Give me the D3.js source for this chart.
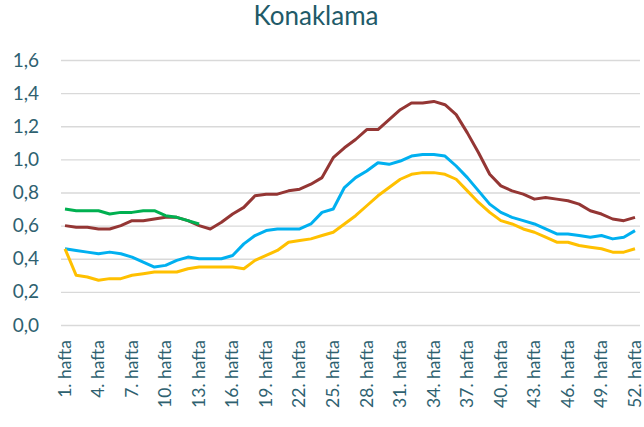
<!DOCTYPE html>
<html>
<head>
<meta charset="utf-8">
<script src="https://cdn.jsdelivr.net/npm/d3@7"></script>
<style>
  body { margin: 0; background: #fff; }
  text { font-family: Lato, "Open Sans", sans-serif; }
</style>
</head>
<body>
<div id="chart"></div>
<script>
const title = "Konaklama";
const weeks = d3.range(1, 53).map(function(w) { return w + ". hafta"; });
const yTicks = [0, 0.2, 0.4, 0.6, 0.8, 1.0, 1.2, 1.4, 1.6];

const seriesRed = [0.60, 0.59, 0.59, 0.58, 0.58, 0.60, 0.63, 0.63, 0.64, 0.65, 0.65, 0.63, 0.60, 0.58,
  0.62, 0.67, 0.71, 0.78, 0.79, 0.79, 0.81, 0.82, 0.85, 0.89, 1.01, 1.07, 1.12, 1.18, 1.18, 1.24,
  1.30, 1.34, 1.34, 1.35, 1.33, 1.27, 1.16, 1.04, 0.91, 0.84, 0.81, 0.79, 0.76, 0.77, 0.76, 0.75,
  0.73, 0.69, 0.67, 0.64, 0.63, 0.65];
const seriesBlue = [0.46, 0.45, 0.44, 0.43, 0.44, 0.43, 0.41, 0.38, 0.35, 0.36, 0.39, 0.41, 0.40, 0.40,
  0.40, 0.42, 0.49, 0.54, 0.57, 0.58, 0.58, 0.58, 0.61, 0.68, 0.70, 0.83, 0.89, 0.93, 0.98, 0.97,
  0.99, 1.02, 1.03, 1.03, 1.02, 0.96, 0.89, 0.81, 0.73, 0.68, 0.65, 0.63, 0.61, 0.58, 0.55, 0.55,
  0.54, 0.53, 0.54, 0.52, 0.53, 0.57];
const seriesYellow = [0.46, 0.30, 0.29, 0.27, 0.28, 0.28, 0.30, 0.31, 0.32, 0.32, 0.32, 0.34, 0.35, 0.35,
  0.35, 0.35, 0.34, 0.39, 0.42, 0.45, 0.50, 0.51, 0.52, 0.54, 0.56, 0.61, 0.66, 0.72, 0.78, 0.83,
  0.88, 0.91, 0.92, 0.92, 0.91, 0.88, 0.81, 0.74, 0.68, 0.63, 0.61, 0.58, 0.56, 0.53, 0.50, 0.50,
  0.48, 0.47, 0.46, 0.44, 0.44, 0.46];
const seriesGreen = [0.70, 0.69, 0.69, 0.69, 0.67, 0.68, 0.68, 0.69, 0.69, 0.66, 0.65, 0.63, 0.61];

const series = [
  { name: "red", color: "#943634", values: seriesRed },
  { name: "blue", color: "#00B0F0", values: seriesBlue },
  { name: "yellow", color: "#FFC000", values: seriesYellow },
  { name: "green", color: "#00B050", values: seriesGreen }
];

const W = 644, H = 427;
const margin = { top: 60, right: 4, bottom: 102, left: 61 };
const width = W - margin.left - margin.right;
const height = H - margin.top - margin.bottom;

const svg = d3.select("#chart").append("svg")
    .attr("width", W)
    .attr("height", H);

svg.append("text")
    .attr("x", 316)
    .attr("y", 25)
    .attr("text-anchor", "middle")
    .attr("font-size", 26)
    .attr("fill", "#215A68")
    .text(title);

const g = svg.append("g")
    .attr("transform", "translate(" + margin.left + "," + margin.top + ")");

const xScale = d3.scalePoint()
    .domain(weeks)
    .range([4, width - 5]);

const yScale = d3.scaleLinear()
    .domain([0, 1.6])
    .range([height, 0]);

const fmt = function(d) { return d3.format(".1f")(d).replace(".", ","); };

// gridlines
g.append("g")
    .attr("class", "grid")
    .call(d3.axisLeft(yScale).tickValues(yTicks).tickSize(-width).tickFormat(""))
    .call(function(s) {
      s.select(".domain").remove();
      s.selectAll("line").attr("stroke", "#D9D9D9").attr("stroke-width", 1.3);
    });

// y labels
g.append("g")
    .attr("class", "y axis")
    .call(d3.axisLeft(yScale).tickValues(yTicks).tickSize(0).tickPadding(22).tickFormat(fmt))
    .call(function(s) {
      s.select(".domain").remove();
      s.selectAll("text").attr("font-size", 19).attr("fill", "#2E6170")
        .attr("font-family", "Lato, sans-serif");
    });

// x labels
g.append("g")
    .attr("class", "x axis")
    .attr("transform", "translate(0," + height + ")")
    .call(d3.axisBottom(xScale).tickValues(weeks.filter(function(d, i) { return i % 3 === 0; })).tickSize(0))
    .call(function(s) {
      s.select(".domain").remove();
      s.selectAll("text")
        .attr("font-size", 17.5)
        .attr("fill", "#2E6170")
        .attr("font-family", "Lato, sans-serif")
        .attr("transform", "rotate(-90)")
        .attr("text-anchor", "end")
        .attr("x", -15)
        .attr("y", 0)
        .attr("dy", "0.3em");
    });

const line = d3.line()
    .x(function(d, i) { return xScale(weeks[i]); })
    .y(function(d) { return yScale(d); });

g.selectAll(".line")
    .data(series)
    .enter()
    .append("path")
    .attr("class", "line")
    .attr("d", function(d) { return line(d.values); })
    .style("fill", "none")
    .attr("stroke", function(d) { return d.color; })
    .attr("stroke-width", 3)
    .attr("stroke-linejoin", "round");
</script>
</body>
</html>
